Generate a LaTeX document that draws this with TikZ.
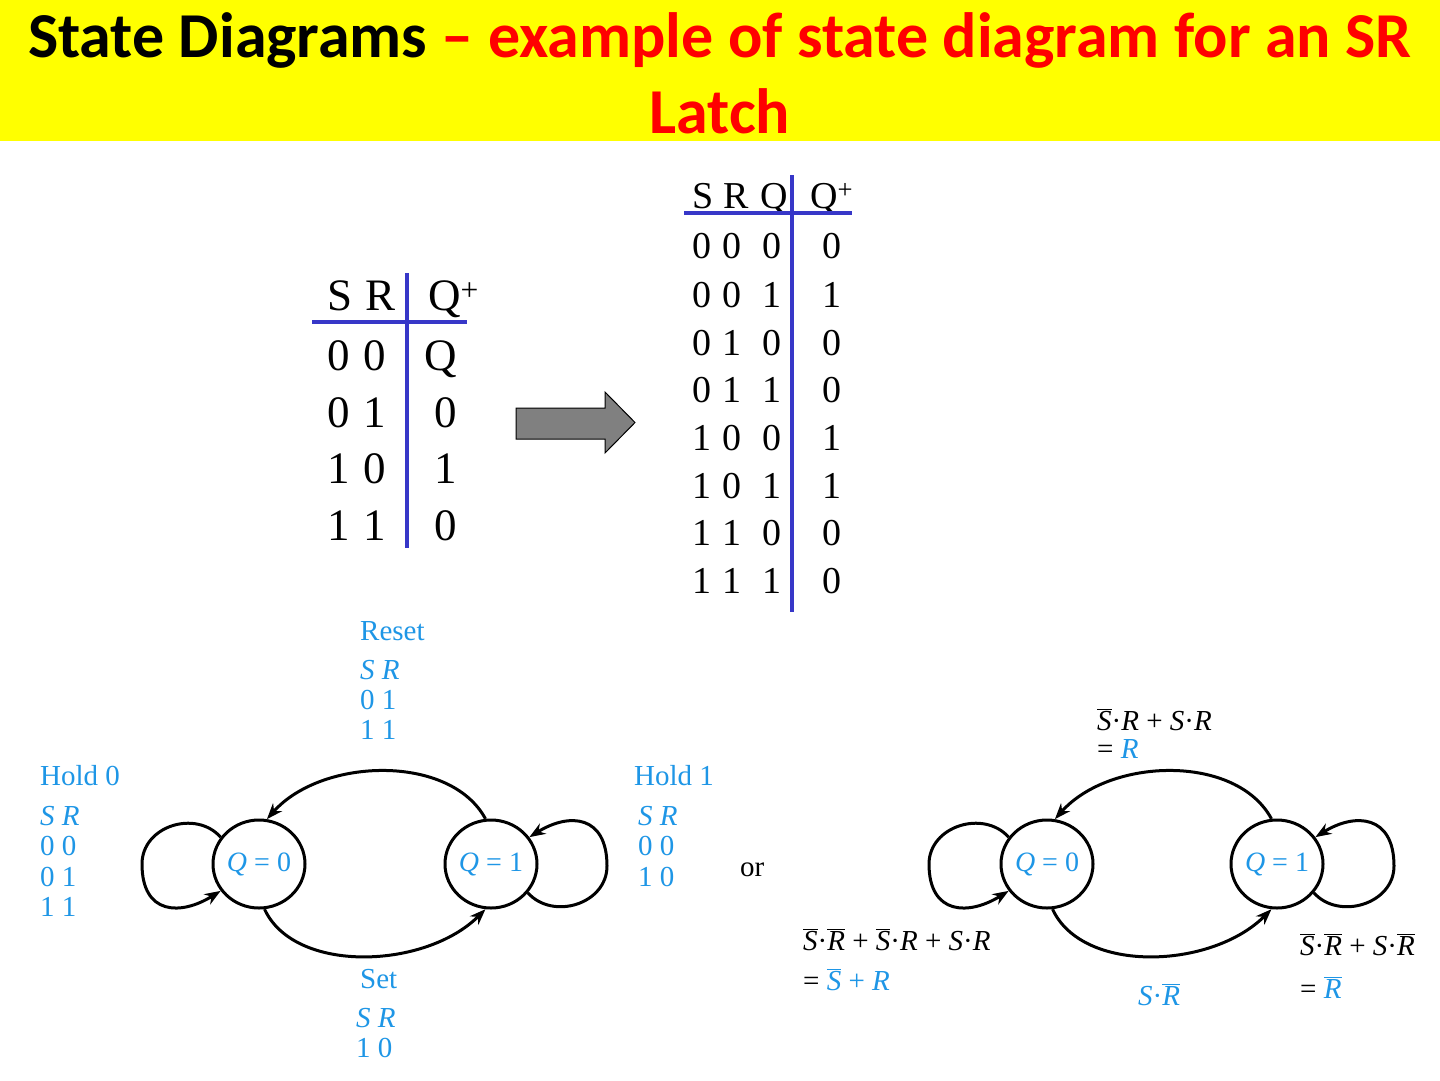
\documentclass[tikz,border=0pt]{standalone}
\usepackage{fontspec}
\setmainfont{Liberation Serif}
\newfontfamily\titlefont{Carlito}
\usetikzlibrary{arrows.meta,shapes.geometric,calc}
\definecolor{ttlyellow}{RGB}{255,255,0}
\definecolor{ttlred}{RGB}{255,0,0}
\definecolor{tblblue}{RGB}{55,55,200}
\definecolor{dgblue}{RGB}{30,150,230}
\definecolor{blockgray}{RGB}{128,128,128}
\newcommand\ov[1]{\ensuremath{\overline{\mbox{\itshape #1}}}}
\tikzset{
  ttl/.style={font=\titlefont\bfseries\fontsize{64}{76}\selectfont, inner sep=0, anchor=base},
  tbla/.style={font=\fontsize{45}{50}\selectfont, inner sep=0, anchor=base west},
  tblar/.style={font=\fontsize{45}{50}\selectfont, inner sep=0, anchor=base east},
  tblb/.style={font=\fontsize{38}{44}\selectfont, inner sep=0, anchor=base west},
  rule/.style={draw=tblblue, line width=4pt},
  lbl/.style={font=\fontsize{29}{30}\selectfont, text=dgblue, inner sep=0, anchor=base west},
  eq/.style={font=\fontsize{29}{30}\selectfont, text=black, inner sep=0, anchor=base west},
  state/.style={ellipse, draw, line width=3pt, minimum width=92pt, minimum height=88pt, inner sep=0, font=\fontsize{28}{30}\selectfont, text=dgblue},
  trans/.style={line width=3pt, -{Stealth[length=16pt,width=12pt]}},
}
\begin{document}
\begin{tikzpicture}[x=1pt,y=1pt]
\useasboundingbox (0,0) rectangle (1440,-1080);
\fill[white] (0,0) rectangle (1440,-1080);
% title band
\fill[ttlyellow] (0,0) rectangle (1440,-141);
\node[ttl] (title1) at (720,-57) {State Diagrams {\color{ttlred}– example of state diagram for an SR}};
\node[ttl, text=ttlred] (title2) at (720,-133) {Latch};

% table 1
\node[tbla] (t1hS) at (327,-310) {S};
\node[tbla] (t1hR) at (365,-310) {R};
\node[tbla] (t1hQ) at (428,-310) {Q\textsuperscript{+}};
\foreach \a/\b/\c/\y [count=\i] in {0/0/Q/370, 0/1/0/427, 1/0/1/483, 1/1/0/540}{
  \node[tbla] (t1a\i) at (327,-\y) {\a};
  \node[tbla] (t1b\i) at (363,-\y) {\b};
  \node[tblar] (t1c\i) at (457,-\y) {\c};
}
\draw[rule] (312,-322) -- (467,-322);
\draw[rule] (407,-273) -- (407,-548);

% block arrow
\filldraw[fill=blockgray, draw=black, line width=1pt]
  (516,-408) -- (605,-408) -- (605,-392) -- (635,-422.5) -- (605,-453) -- (605,-439) -- (516,-439) -- cycle;

% table 2
\node[tblb] (t2hS) at (692,-208) {S};
\node[tblb] (t2hR) at (723,-208) {R};
\node[tblb] (t2hQ) at (760,-208) {Q};
\node[tblb] (t2hQp) at (810,-208) {Q\textsuperscript{+}};
\foreach \a/\b/\c/\d/\y [count=\i] in {0/0/0/0/258, 0/0/1/1/307, 0/1/0/0/355, 0/1/1/0/402, 1/0/0/1/450, 1/0/1/1/498, 1/1/0/0/545, 1/1/1/0/593}{
  \node[tblb] (t2a\i) at (692,-\y) {\a};
  \node[tblb] (t2b\i) at (722,-\y) {\b};
  \node[tblb] (t2c\i) at (762,-\y) {\c};
  \node[tblb] (t2d\i) at (822,-\y) {\d};
}
\draw[rule] (684,-213) -- (852,-213);
\draw[rule] (792,-175) -- (792,-612);

% left state diagram
\node[state] (q0) at (259,-864) {\textit{Q} = 0};
\node[state] (q1) at (491,-864) {\textit{Q} = 1};
\draw[trans] (q1.97) .. controls +(-35,65) and +(55,62) .. (q0.80);
\draw[trans] (q0.-83) .. controls +(30,-65) and +(-60,-60) .. (q1.-97);
\draw[trans] (q0.145) .. controls +(-25,28) and +(0,38) .. ($(q0)+(-117,0)$)
                      .. controls +(0,-51) and +(-40,-25) .. (q0.215);
\draw[trans] (q1.-38) .. controls +(25,-28) and +(0,-38) .. ($(q1)+(116,-2)$)
                      .. controls +(0,51) and +(40,25) .. (q1.35);

\node[lbl] (reset) at (360,-640) {Reset};
\node[lbl] (resetsr) at (360,-679) {\textit{S R}};
\node[lbl] (reseta) at (360,-709) {0 1};
\node[lbl] (resetb) at (360,-739) {1 1};

\node[lbl] (hold0) at (40,-785) {Hold 0};
\node[lbl] (hold0sr) at (40,-825) {\textit{S R}};
\node[lbl] (hold0a) at (40,-855) {0 0};
\node[lbl] (hold0b) at (40,-886) {0 1};
\node[lbl] (hold0c) at (40,-916) {1 1};

\node[lbl] (hold1) at (634,-785) {Hold 1};
\node[lbl] (hold1sr) at (638,-825) {\textit{S R}};
\node[lbl] (hold1a) at (638,-855) {0 0};
\node[lbl] (hold1b) at (638,-886) {1 0};

\node[lbl] (set) at (360,-988) {Set};
\node[lbl] (setsr) at (356,-1027) {\textit{S R}};
\node[lbl] (seta) at (356,-1057) {1 0};

\node[eq] (or) at (740,-876) {or};

% right state diagram
\node[state] (p0) at (1047,-864) {\textit{Q} = 0};
\node[state] (p1) at (1277,-864) {\textit{Q} = 1};
\draw[trans] (p1.97) .. controls +(-35,65) and +(55,62) .. (p0.80);
\draw[trans] (p0.-83) .. controls +(30,-65) and +(-60,-60) .. (p1.-97);
\draw[trans] (p0.145) .. controls +(-25,28) and +(0,38) .. ($(p0)+(-118,0)$)
                      .. controls +(0,-51) and +(-40,-25) .. (p0.215);
\draw[trans] (p1.-38) .. controls +(25,-28) and +(0,-38) .. ($(p1)+(117,-2)$)
                      .. controls +(0,51) and +(40,25) .. (p1.35);

\node[eq] (topexpr) at (1097,-730) {\ov{S}·\textit{R} + \textit{S}·\textit{R}};
\node[eq] (topres) at (1097,-758) {= {\color{dgblue}\textit{R}}};
\node[eq] (lexpr) at (803,-950) {\ov{S}·\ov{R} + \ov{S}·\textit{R} + \textit{S}·\textit{R}};
\node[eq] (lres) at (803,-990) {= {\color{dgblue}\ov{S} + \textit{R}}};
\node[lbl] (midexpr) at (1138,-1005) {\textit{S}·\ov{R}};
\node[eq] (rexpr) at (1300,-955) {\ov{S}·\ov{R} + \textit{S}·\ov{R}};
\node[eq] (rres) at (1300,-998) {= {\color{dgblue}\ov{R}}};
\end{tikzpicture}
\end{document}
